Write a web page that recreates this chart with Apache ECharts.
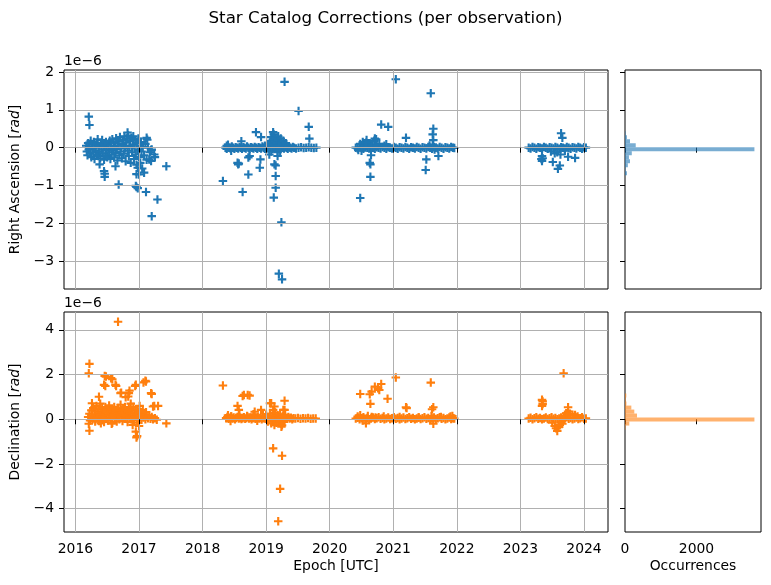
<!DOCTYPE html>
<html>
<head>
<meta charset="utf-8">
<script src="https://cdn.jsdelivr.net/npm/echarts@6/dist/echarts.min.js"></script>
<style>html,body{margin:0;padding:0;background:#fff}#c{width:771px;height:585px}</style>
</head>
<body>
<div id="c"></div>
<script>
// ---- Data (values in 1e-6 rad, epochs in decimal years) ----
const yearTicks = [2016, 2017, 2018, 2019, 2020, 2021, 2022, 2023, 2024];
const raTicks = [-3, -2, -1, 0, 1, 2];
const decTicks = [-4, -2, 0, 2, 4];
const histTicks = [0, 2000];

const ra2016 = [
[2016.17,0.05],[2016.18,-0.10],[2016.19,-0.20],[2016.20,0.12],[2016.21,-0.05],[2016.22,0.02],[2016.23,-0.15],[2016.24,0.18],[2016.25,-0.25],[2016.26,0.08],
[2016.27,-0.02],[2016.28,-0.12],[2016.29,0.15],[2016.30,-0.30],[2016.31,0.00],[2016.32,-0.08],[2016.33,0.10],[2016.34,-0.18],[2016.35,0.22],[2016.36,-0.22],
[2016.37,0.04],[2016.38,-0.10],[2016.39,-0.28],[2016.40,0.12],[2016.41,-0.04],[2016.42,0.20],[2016.43,-0.15],[2016.44,0.02],[2016.45,-0.32],[2016.46,0.08],
[2016.47,-0.20],[2016.48,0.15],[2016.49,-0.06],[2016.50,-0.25],[2016.51,0.10],[2016.52,0.00],[2016.53,-0.12],[2016.54,0.18],[2016.55,-0.30],[2016.56,0.05],
[2016.57,-0.18],[2016.58,0.22],[2016.59,-0.08],[2016.60,0.12],[2016.61,-0.26],[2016.62,0.02],[2016.63,-0.14],[2016.64,0.25],[2016.65,-0.04],[2016.66,-0.34],
[2016.67,0.16],[2016.68,0.06],[2016.69,-0.20],[2016.70,0.28],[2016.71,-0.10],[2016.72,0.00],[2016.73,-0.28],[2016.74,0.20],[2016.75,0.10],[2016.76,-0.16],
[2016.77,0.30],[2016.78,-0.02],[2016.79,-0.36],[2016.80,0.14],[2016.81,0.24],[2016.82,-0.08],[2016.83,0.32],[2016.84,-0.22],[2016.85,0.04],[2016.86,0.18],
[2016.87,-0.40],[2016.88,0.26],[2016.89,-0.12],[2016.90,0.08],[2016.91,0.30],[2016.92,-0.30],[2016.93,0.00],[2016.94,0.20],[2016.95,-0.18],[2016.96,-0.45],
[2016.97,0.12],[2016.98,-0.06],[2016.99,0.24],[2017.00,-0.25],[2017.01,0.05],[2017.02,-0.40],[2017.03,0.15],[2017.04,-0.10],[2017.05,-0.55],[2017.06,0.02],
[2017.08,-0.20],[2017.10,0.10],[2017.12,-0.32],[2017.14,0.00],[2017.17,-0.12],[2017.20,-0.05],
[2016.21,0.82],[2016.22,0.60],[2016.82,0.40],[2017.12,0.26],[2017.13,0.21],[2016.46,-0.69],[2016.46,-0.77],[2016.68,-0.97],[2016.95,-1.01],[2016.96,-1.04],
[2016.98,-1.07],[2017.11,-1.17],[2017.29,-1.37],[2017.20,-1.81],[2017.43,-0.49],[2017.19,-0.35],[2017.24,-0.18],[2017.25,-0.25],[2017.08,-0.66],[2016.96,-0.70],
[2016.98,-0.53],[2017.00,-0.71],[2016.38,-0.44],[2016.45,-0.62],[2016.63,-0.49],[2017.16,-0.31],[2017.19,-0.06]
];
const ra2018 = [
[2018.36,0.00],[2018.38,-0.03],[2018.40,0.02],[2018.42,0.00],[2018.44,-0.02],[2018.46,0.03],[2018.48,0.00],[2018.50,-0.03],[2018.52,0.01],[2018.54,0.00],
[2018.56,-0.02],[2018.58,0.02],[2018.60,0.00],[2018.62,-0.03],[2018.64,0.01],[2018.66,0.00],[2018.68,-0.02],[2018.70,0.03],[2018.72,0.00],[2018.74,-0.03],
[2018.76,0.01],[2018.78,0.00],[2018.80,-0.02],[2018.82,0.02],[2018.84,0.00],[2018.86,-0.03],[2018.88,0.01],[2018.90,0.00],[2018.92,-0.02],[2018.94,0.03],
[2018.96,0.00],[2018.98,-0.03],[2019.00,0.01],[2019.02,0.00],[2019.04,-0.02],[2019.06,0.02],[2019.08,0.00],[2019.10,-0.03],[2019.12,0.01],[2019.14,0.00],
[2019.16,-0.02],[2019.18,0.02],[2019.20,0.00],[2019.22,-0.03],[2019.24,0.01],[2019.26,0.00],[2019.28,-0.02],[2019.30,0.02],[2019.32,0.00],[2019.34,-0.03],
[2019.36,0.01],[2019.38,0.00],[2019.40,-0.02],[2019.42,0.02],[2019.44,0.00],[2019.47,-0.02],[2019.51,0.00],[2019.55,0.01],[2019.59,-0.01],[2019.63,0.00],
[2019.67,0.01],[2019.71,0.00],[2019.75,-0.01],[2019.79,0.00],
[2019.05,0.10],[2019.07,0.18],[2019.08,0.28],[2019.10,0.12],[2019.11,0.22],[2019.12,0.35],[2019.13,0.08],[2019.14,0.16],[2019.15,0.26],[2019.17,0.12],
[2019.18,0.20],[2019.19,0.30],[2019.20,0.06],[2019.22,0.14],[2019.23,0.24],[2019.25,0.10],[2019.27,0.18],[2019.29,0.08],[2019.31,0.12],[2018.98,0.05],
[2019.02,0.08],[2019.08,-0.10],[2019.18,-0.12],[2019.22,-0.08],[2018.40,0.08],[2018.38,0.05],[2018.45,-0.08],
[2018.32,-0.88],[2018.63,-1.17],[2018.55,-0.40],[2018.56,-0.44],[2018.57,-0.42],[2018.72,-0.71],[2018.74,-0.22],[2018.72,-0.26],[2018.84,0.41],[2018.92,0.28],
[2018.91,-0.31],[2018.90,-0.53],[2018.61,0.17],[2019.11,0.41],[2019.13,-0.44],[2019.15,-0.47],[2019.15,-0.75],[2019.15,-1.06],[2019.12,-1.32],[2019.24,-1.97],
[2019.20,-3.33],[2019.25,-3.48],[2019.29,1.74],[2019.51,0.97],[2019.67,0.55],[2019.68,0.24],[2019.18,-0.22],[2019.05,-0.18]
];
const ra2020 = [
[2020.41,0.00],[2020.44,-0.02],[2020.47,0.02],[2020.50,0.00],[2020.53,-0.03],[2020.56,0.01],[2020.59,0.00],[2020.62,-0.02],[2020.65,0.02],[2020.68,0.00],
[2020.71,-0.03],[2020.74,0.01],[2020.77,0.00],[2020.80,-0.02],[2020.83,0.02],[2020.86,0.00],[2020.89,-0.03],[2020.92,0.01],[2020.95,0.00],[2020.98,-0.02],
[2021.01,0.02],[2021.04,0.00],[2021.07,-0.03],[2021.10,0.01],[2021.13,0.00],[2021.16,-0.02],[2021.19,0.02],[2021.22,0.00],[2021.25,-0.03],[2021.28,0.01],
[2021.31,0.00],[2021.34,-0.02],[2021.37,0.02],[2021.40,0.00],[2021.43,-0.03],[2021.46,0.01],[2021.49,0.00],[2021.52,-0.02],[2021.55,0.02],[2021.58,0.00],
[2021.61,-0.03],[2021.64,0.01],[2021.67,0.00],[2021.70,-0.02],[2021.73,0.02],[2021.76,0.00],[2021.79,-0.03],[2021.82,0.01],[2021.85,0.00],[2021.88,-0.02],
[2021.91,0.02],[2021.94,0.00],[2021.96,-0.01],
[2020.48,0.10],[2020.52,0.15],[2020.55,0.05],[2020.58,0.20],[2020.60,0.08],[2020.62,0.12],[2020.66,0.05],[2020.70,0.18],[2020.74,0.06],[2020.78,0.10],
[2020.86,0.05],[2021.57,0.06],[2021.62,0.08],[2021.65,-0.05],[2020.45,-0.06],[2020.50,-0.08],
[2020.48,-1.33],[2020.64,-0.77],[2020.64,-0.44],[2020.63,-0.40],[2020.65,-0.20],[2020.81,0.61],[2020.92,0.55],[2020.71,0.24],[2020.73,0.22],[2021.04,1.81],
[2021.20,0.26],[2021.59,1.44],[2021.63,0.50],[2021.62,0.35],[2021.63,0.20],[2021.52,-0.31],[2021.51,-0.59],[2021.71,-0.22],[2020.57,0.13],[2020.89,0.09]
];
const ra2023 = [
[2023.13,0.00],[2023.16,-0.02],[2023.19,0.02],[2023.22,0.00],[2023.25,-0.03],[2023.28,0.01],[2023.31,0.00],[2023.34,-0.02],[2023.37,0.02],[2023.40,0.00],
[2023.43,-0.03],[2023.46,0.01],[2023.49,0.00],[2023.52,-0.02],[2023.55,0.02],[2023.58,0.00],[2023.61,-0.03],[2023.64,0.01],[2023.67,0.00],[2023.70,-0.02],
[2023.73,0.02],[2023.76,0.00],[2023.79,-0.03],[2023.82,0.01],[2023.85,0.00],[2023.88,-0.02],[2023.91,0.02],[2023.94,0.00],[2023.97,-0.03],[2024.00,0.01],
[2024.03,0.00],
[2023.64,0.38],[2023.66,0.26],[2023.34,-0.22],[2023.34,-0.35],[2023.35,-0.28],[2023.33,-0.30],[2023.51,-0.38],[2023.59,-0.56],[2023.62,-0.47],[2023.63,-0.18],
[2023.75,-0.24],[2023.86,-0.27],[2023.54,-0.15],[2023.48,-0.10],[2023.58,-0.12],[2023.70,-0.08]
];

const dec2016 = [
[2016.20,0.10],[2016.22,0.25],[2016.23,-0.05],[2016.25,0.40],[2016.26,0.15],[2016.27,0.00],[2016.28,0.50],[2016.30,0.20],[2016.31,-0.10],[2016.32,0.35],
[2016.33,0.60],[2016.34,0.05],[2016.35,0.25],[2016.36,0.45],[2016.37,-0.08],[2016.38,0.15],[2016.39,0.70],[2016.40,0.30],[2016.41,0.00],[2016.42,0.50],
[2016.43,0.12],[2016.44,0.38],[2016.45,-0.12],[2016.46,0.22],[2016.47,0.55],[2016.48,0.05],[2016.49,0.32],[2016.50,0.42],[2016.51,-0.05],[2016.52,0.18],
[2016.53,0.62],[2016.54,0.28],[2016.55,0.02],[2016.56,0.45],[2016.57,0.12],[2016.58,-0.15],[2016.59,0.35],[2016.60,0.20],[2016.61,0.55],[2016.62,0.05],
[2016.63,0.30],[2016.64,0.42],[2016.65,-0.10],[2016.66,0.15],[2016.67,0.50],[2016.68,0.25],[2016.69,0.00],[2016.70,0.38],[2016.71,0.65],[2016.72,0.10],
[2016.73,0.30],[2016.74,-0.08],[2016.75,0.45],[2016.76,0.18],[2016.77,0.28],[2016.78,0.55],[2016.79,0.04],[2016.80,0.40],[2016.81,0.15],[2016.82,-0.12],
[2016.83,0.32],[2016.84,0.50],[2016.85,0.08],[2016.86,0.25],[2016.87,0.70],[2016.88,0.00],[2016.89,0.42],[2016.90,0.18],[2016.91,0.55],[2016.92,-0.05],
[2016.93,0.30],[2016.94,0.12],[2016.95,0.45],[2016.96,0.22],[2016.97,-0.15],[2016.98,0.38],[2016.99,0.05],[2017.00,0.28],[2017.01,0.60],[2017.02,0.10],
[2017.03,0.32],[2017.04,-0.02],[2017.05,0.20],[2017.06,0.42],[2017.07,0.08],[2017.08,0.22],[2017.10,0.00],[2017.11,0.32],[2017.12,0.12],[2017.14,0.05],
[2017.16,0.18],[2017.18,0.02],[2017.20,0.10],[2017.22,0.00],[2017.25,0.05],[2017.28,-0.02],
[2016.67,4.36],[2016.22,2.48],[2016.21,2.06],[2016.46,1.94],[2016.48,1.91],[2016.56,1.84],[2016.58,1.79],[2016.47,1.49],[2016.45,1.54],[2016.64,1.49],
[2016.63,1.54],[2016.72,1.19],[2016.71,1.17],[2016.85,1.28],[2016.84,1.17],[2016.83,1.02],[2016.79,0.99],[2016.94,1.49],[2016.95,1.54],[2017.10,1.72],
[2017.07,1.65],[2017.11,1.69],[2017.19,1.17],[2017.20,1.13],[2017.22,0.57],[2017.24,0.60],[2017.30,0.60],[2017.43,-0.18],[2016.22,-0.51],[2016.21,-0.20],
[2016.96,-0.81],[2016.97,-0.75],[2016.95,-0.55],[2016.37,1.01],[2016.26,0.72],[2016.40,-0.18],[2016.57,-0.20],[2016.90,-0.25],[2017.00,-0.30]
];
const dec2018 = [
[2018.37,0.05],[2018.39,0.10],[2018.41,0.02],[2018.43,0.07],[2018.45,0.12],[2018.47,0.04],[2018.49,0.08],[2018.51,0.00],[2018.53,0.06],[2018.55,0.10],
[2018.57,0.03],[2018.59,0.07],[2018.61,0.01],[2018.63,0.05],[2018.65,0.09],[2018.67,0.02],[2018.69,0.06],[2018.71,0.10],[2018.73,0.03],[2018.75,0.07],
[2018.77,0.00],[2018.79,0.05],[2018.81,0.09],[2018.83,0.02],[2018.85,0.06],[2018.87,0.10],[2018.89,0.03],[2018.91,0.07],[2018.93,0.00],[2018.95,0.05],
[2018.97,0.09],[2018.99,0.02],[2019.01,0.06],[2019.03,0.10],[2019.05,0.03],[2019.07,0.07],[2019.09,0.00],[2019.11,0.05],[2019.13,0.09],[2019.15,0.02],
[2019.17,0.06],[2019.19,0.10],[2019.21,0.03],[2019.23,0.07],[2019.25,0.00],[2019.27,0.05],[2019.29,0.09],[2019.31,0.02],[2019.33,0.06],[2019.35,0.10],
[2019.37,0.03],[2019.39,0.07],[2019.41,0.00],[2019.43,0.05],[2019.46,0.04],[2019.50,0.06],[2019.54,0.02],[2019.58,0.05],[2019.62,0.03],[2019.66,0.06],
[2019.70,0.02],[2019.74,0.04],[2019.78,0.03],
[2019.00,0.20],[2019.03,-0.10],[2019.06,0.25],[2019.08,-0.18],[2019.10,0.15],[2019.12,-0.05],[2019.14,0.30],[2019.16,-0.15],[2019.18,0.18],[2019.20,-0.08],
[2019.22,0.22],[2019.24,-0.20],[2019.26,0.12],[2019.28,-0.12],[2019.30,0.20],[2018.40,0.18],[2018.44,-0.08],[2018.58,0.20],[2018.70,0.15],[2018.80,0.22],
[2018.86,-0.06],[2018.95,0.18],
[2018.32,1.51],[2018.63,1.04],[2018.65,1.09],[2018.71,1.09],[2018.74,1.06],[2018.55,0.60],[2018.57,0.42],[2018.82,0.34],[2018.92,0.42],[2019.06,0.72],
[2019.08,0.72],[2019.11,0.42],[2019.13,0.57],[2019.29,0.83],[2019.27,0.42],[2019.29,0.42],[2019.11,-1.30],[2019.25,-1.63],[2019.22,-3.11],[2019.19,-4.56],
[2019.13,-0.26],[2019.24,-0.33],[2019.25,-0.27],[2018.45,0.12]
];
const dec2020 = [
[2020.41,0.03],[2020.44,0.07],[2020.47,0.00],[2020.50,0.05],[2020.53,0.09],[2020.56,0.02],[2020.59,0.06],[2020.62,0.00],[2020.65,0.04],[2020.68,0.08],
[2020.71,0.01],[2020.74,0.05],[2020.77,0.09],[2020.80,0.02],[2020.83,0.06],[2020.86,0.00],[2020.89,0.04],[2020.92,0.08],[2020.95,0.01],[2020.98,0.05],
[2021.01,0.09],[2021.04,0.02],[2021.07,0.06],[2021.10,0.00],[2021.13,0.04],[2021.16,0.08],[2021.19,0.01],[2021.22,0.05],[2021.25,0.09],[2021.28,0.02],
[2021.31,0.06],[2021.34,0.00],[2021.37,0.04],[2021.40,0.08],[2021.43,0.01],[2021.46,0.05],[2021.49,0.09],[2021.52,0.02],[2021.55,0.06],[2021.58,0.00],
[2021.61,0.04],[2021.64,0.08],[2021.67,0.01],[2021.70,0.05],[2021.73,0.09],[2021.76,0.02],[2021.79,0.06],[2021.82,0.00],[2021.85,0.04],[2021.88,0.08],
[2021.91,0.01],[2021.94,0.05],[2021.96,0.03],
[2020.44,0.12],[2020.48,0.18],[2020.52,-0.05],[2020.60,0.15],[2020.66,0.10],[2020.72,0.08],[2020.85,0.12],[2021.10,0.10],[2021.40,0.08],[2021.60,0.15],
[2021.75,0.10],[2021.90,0.12],[2021.93,0.15],
[2020.48,1.13],[2020.63,1.12],[2020.66,1.24],[2020.64,0.69],[2020.71,1.46],[2020.81,1.58],[2020.78,1.31],[2020.76,1.39],[2020.91,0.92],[2021.04,1.87],
[2021.20,0.54],[2021.21,0.50],[2021.59,1.64],[2021.63,0.54],[2021.61,0.45],[2021.63,-0.20],[2020.57,-0.18]
];
const dec2023 = [
[2023.13,0.03],[2023.16,0.07],[2023.19,0.00],[2023.22,0.05],[2023.25,0.09],[2023.28,0.02],[2023.31,0.06],[2023.34,0.00],[2023.37,0.04],[2023.40,0.08],
[2023.43,0.01],[2023.46,0.05],[2023.49,0.09],[2023.52,0.02],[2023.55,0.06],[2023.58,0.00],[2023.61,0.04],[2023.64,0.08],[2023.67,0.01],[2023.70,0.05],
[2023.73,0.09],[2023.76,0.02],[2023.79,0.06],[2023.82,0.00],[2023.85,0.04],[2023.88,0.08],[2023.91,0.01],[2023.94,0.05],[2023.97,0.09],[2024.00,0.02],
[2024.03,0.04],
[2023.50,-0.15],[2023.54,-0.30],[2023.56,-0.40],[2023.58,-0.52],[2023.60,-0.35],[2023.62,-0.25],[2023.64,-0.12],[2023.66,-0.20],[2023.70,0.15],[2023.73,0.27],
[2023.75,0.35],[2023.78,0.25],[2023.82,0.20],[2023.86,0.19],[2023.90,0.12],[2023.68,0.10],
[2023.68,2.06],[2023.34,0.87],[2023.35,0.80],[2023.34,0.60],[2023.35,0.68],[2023.75,0.54],[2023.72,0.27]
];

// Histogram bins (value range in 1e-6 rad) and occurrence counts
const raBinLo  = [-0.728,-0.623,-0.517,-0.411,-0.306,-0.200,-0.094,0.0114,0.117,0.223,0.329];
const raBinHi  = [-0.623,-0.517,-0.411,-0.306,-0.200,-0.094,0.0114,0.117,0.223,0.329,0.435];
const raCount  = [55,15,80,140,110,190,3620,300,140,55,15];
const decBinLo = [-0.457,-0.279,-0.100,0.078,0.257,0.435,0.614,0.792,0.970];
const decBinHi = [-0.279,-0.100,0.078,0.257,0.435,0.614,0.792,0.970,1.149];
const decCount = [15,120,3620,336,260,177,40,20,37];

// ---- Chart ----
const FONT = 'DejaVu Sans';
const FS = 13.9;
const PLUS = 'path://M3,0H5V3H8V5H5V8H3V5H0V3H3Z';
const minus = v => String(v).replace('-', '\u2212');
const plain = v => String(v);

const G = [
  {left: 64, top: 70, width: 544, height: 219},
  {left: 625, top: 70, width: 136, height: 219},
  {left: 64, top: 312, width: 544, height: 220},
  {left: 625, top: 312, width: 136, height: 220}
];
const grids = G.map(g => Object.assign({show: true, borderColor: '#000', borderWidth: 1, backgroundColor: 'transparent', containLabel: false}, g));

function yearAxis(gi, labels) {
  return {
    type: 'value', gridIndex: gi, min: 2015.82, max: 2024.378, z: 3,
    axisLine: {show: false},
    axisTick: {show: true, length: 5, customValues: yearTicks, lineStyle: {color: '#000', width: 1}},
    axisLabel: {show: labels, customValues: yearTicks, formatter: plain, margin: 10, fontFamily: FONT, fontSize: FS, color: '#000'},
    splitLine: {show: true, lineStyle: {color: '#b0b0b0', width: 1}},
    name: labels ? 'Epoch [UTC]' : '', nameLocation: 'middle', nameGap: 27,
    nameTextStyle: {fontFamily: FONT, fontSize: FS, color: '#000'}
  };
}
function histXAxis(gi, labels) {
  return {
    type: 'value', gridIndex: gi, min: 0, max: 3804, interval: 2000,
    axisLine: {show: false},
    axisTick: {show: true, length: 5, customValues: histTicks, lineStyle: {color: '#000', width: 1}},
    axisLabel: {show: labels, customValues: histTicks, formatter: plain, margin: 10, fontFamily: FONT, fontSize: FS, color: '#000'},
    splitLine: {show: false},
    name: labels ? 'Occurrences' : '', nameLocation: 'middle', nameGap: 27,
    nameTextStyle: {fontFamily: FONT, fontSize: FS, color: '#000'}
  };
}
function valAxis(gi, mn, mx, ticks, labels, grid, name) {
  return {
    type: 'value', gridIndex: gi, min: mn, max: mx, z: 3,
    axisLine: {show: false},
    axisTick: {show: true, length: 5, customValues: ticks, lineStyle: {color: '#000', width: 1}},
    axisLabel: {show: labels, customValues: ticks, margin: 10, formatter: minus, fontFamily: FONT, fontSize: FS, color: '#000'},
    splitLine: {show: grid, lineStyle: {color: '#b0b0b0', width: 1}},
    name: name || '', nameLocation: 'middle', nameGap: 36,
    nameTextStyle: {fontFamily: FONT, fontSize: FS, color: '#000',
      rich: {i: {fontFamily: FONT, fontSize: FS, fontStyle: 'italic', color: '#000'}}}
  };
}

function histSeries(xi, yi, lo, hi, cnt, color) {
  return {
    type: 'custom', xAxisIndex: xi, yAxisIndex: yi, clip: true,
    data: lo.map((l, i) => [l, hi[i], cnt[i]]),
    encode: {x: 2, y: [0, 1]},
    renderItem: function (params, api) {
      const a = api.coord([0, api.value(0)]);
      const b = api.coord([api.value(2), api.value(1)]);
      return {type: 'rect', shape: {x: a[0], y: b[1], width: b[0] - a[0], height: a[1] - b[1]},
              style: {fill: color}};
    }
  };
}

function scatter(xi, yi, data, color) {
  return {type: 'scatter', xAxisIndex: xi, yAxisIndex: yi, data: data, symbol: PLUS, symbolSize: 8.5,
          itemStyle: {color: color, opacity: 1}, silent: true, animation: false};
}

const chart = echarts.init(document.getElementById('c'), null, {renderer: 'canvas'});
chart.setOption({
  animation: false,
  backgroundColor: '#fff',
  title: {text: 'Star Catalog Corrections (per observation)', left: 'center', top: 5,
          textStyle: {fontFamily: FONT, fontSize: 16.7, fontWeight: 'normal', color: '#000'}},
  grid: grids,
  xAxis: [yearAxis(0, false), histXAxis(1, false), yearAxis(2, true), histXAxis(3, true)],
  yAxis: [
    valAxis(0, -3.735, 2.053, raTicks, true, true, 'Right Ascension [{i|rad}]'),
    valAxis(1, -3.735, 2.053, raTicks, false, false),
    valAxis(2, -5.04, 4.798, decTicks, true, true, 'Declination [{i|rad}]'),
    valAxis(3, -5.04, 4.798, decTicks, false, false)
  ],
  graphic: [
    {type: 'text', left: 64, top: 54, style: {text: '1e\u22126', font: FS + 'px "DejaVu Sans"', fill: '#000'}},
    {type: 'text', left: 64, top: 296, style: {text: '1e\u22126', font: FS + 'px "DejaVu Sans"', fill: '#000'}}
  ],
  series: [
    scatter(0, 0, ra2016.concat(ra2018, ra2020, ra2023), '#1f77b4'),
    scatter(2, 2, dec2016.concat(dec2018, dec2020, dec2023), '#ff7f0e'),
    histSeries(1, 1, raBinLo, raBinHi, raCount, 'rgba(31,119,180,0.6)'),
    histSeries(3, 3, decBinLo, decBinHi, decCount, 'rgba(255,127,14,0.6)')
  ]
});
</script>
</body>
</html>
